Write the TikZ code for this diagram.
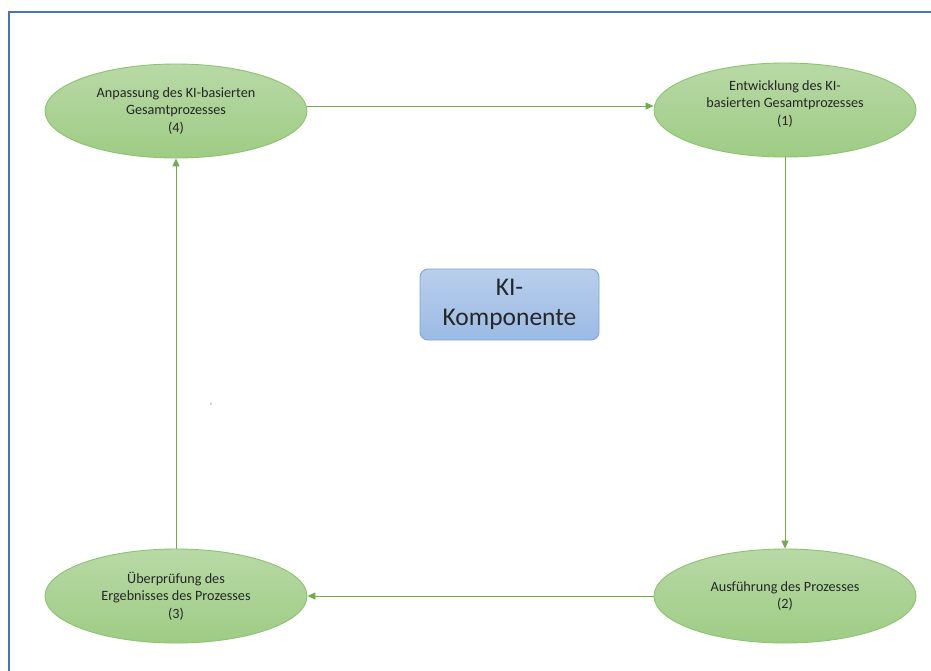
\documentclass[tikz,border=0pt]{standalone}
\usepackage{fontspec}
\setmainfont{Carlito}
\usetikzlibrary{shapes.geometric,arrows.meta}
\definecolor{frameblue}{RGB}{68,114,196}
\definecolor{linegreen}{RGB}{112,173,71}
\definecolor{ellborder}{RGB}{140,195,110}
\definecolor{elltop}{RGB}{184,217,166}
\definecolor{ellbot}{RGB}{158,204,132}
\definecolor{boxtop}{RGB}{185,206,236}
\definecolor{boxbot}{RGB}{155,187,228}
\definecolor{boxborder}{RGB}{125,163,215}
\definecolor{txt}{RGB}{38,38,38}
\tikzset{
  stage/.style={ellipse, draw=ellborder, line width=0.9pt,
    top color=elltop, bottom color=ellbot,
    minimum width=262pt, minimum height=94pt, inner sep=0pt,
    align=center, text=txt, font=\fontsize{14.2}{17.4}\selectfont},
  core/.style={rectangle, rounded corners=8pt, draw=boxborder, line width=0.9pt,
    top color=boxtop, bottom color=boxbot,
    minimum width=179pt, minimum height=71pt, inner sep=0pt,
    align=center, text=txt, font=\fontsize{25.5}{30}\selectfont},
  flow/.style={draw=linegreen, line width=1pt,
    -{Triangle[length=8pt,width=7pt]}, shorten >=0pt}
}
\begin{document}
\begin{tikzpicture}[x=1pt,y=-1pt]
  \useasboundingbox (0,0) rectangle (931,670);
  \fill[white] (0,0) rectangle (931,670);
  % page frame, open to the right and bottom
  \draw[frameblue, line width=1.3pt] (9,680) -- (9,12) -- (940,12);

  % process stages
  \node[stage] (e4) at (176,111) {Anpassung des KI-basierten\\Gesamtprozesses\\(4)};
  \node[stage] (e1) at (785,110) {Entwicklung des KI-\\basierten Gesamtprozesses\\(1)\\[-3pt]};
  \node[stage] (e2) at (785,596) {Ausführung des Prozesses\\(2)};
  \node[stage] (e3) at (176,596) {Überprüfung des\\Ergebnisses des Prozesses\\(3)};

  % central component
  \node[core] (ki) at (509.5,304.5) {KI-\\Komponente};

  % stray mark
  \node[text=frameblue!70, font=\fontsize{11}{11}\selectfont, inner sep=0pt] (mark) at (211,407) {`};

  % cycle
  \draw[flow] ([yshift=5pt]e4.east) -- ([yshift=4pt]e1.west);
  \draw[flow] (e1.south) -- (e2.north);
  \draw[flow] (e2.west) -- (e3.east);
  \draw[flow] (e3.north) -- (e4.south);
\end{tikzpicture}
\end{document}
